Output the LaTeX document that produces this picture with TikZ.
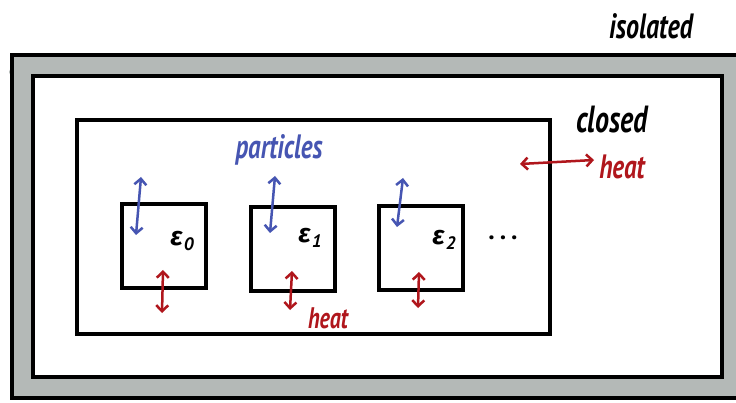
\documentclass[tikz,border=0pt]{standalone}
\usepackage{fontspec}
\setmainfont{PT Sans}
\newfontfamily\greekhand{Fira Sans}
\usetikzlibrary{arrows.meta}
\definecolor{wallgray}{HTML}{B4B9B7}
\definecolor{partblue}{HTML}{4655B2}
\definecolor{heatred}{HTML}{B0161C}
\tikzset{
  wall/.style={line width=4pt, draw=black},
  cell/.style={draw=black, line width=4pt, minimum width=84pt, minimum height=84pt, inner sep=0pt},
  hand/.style={xscale=1.0, yscale=1.35, inner sep=0pt},
  xch/.style={line width=2.5pt, {Straight Barb[length=6pt,width=12pt]}-{Straight Barb[length=6pt,width=12pt]}},
  pflow/.style={xch, draw=partblue},
  hflow/.style={xch, draw=heatred},
  lvl/.style={inner sep=0pt}
}
\newcommand{\lvltext}[1]{{\greekhand\fontsize{26}{28}\selectfont\bfseries\itshape ε}\kern1pt\raisebox{-5pt}{\fontsize{18}{19}\selectfont\bfseries\itshape #1}}
\begin{document}
\begin{tikzpicture}[x=1pt,y=-1pt]
\useasboundingbox (0,0) rectangle (736,403);
\clip (0,0) rectangle (736,403);
% isolated wall
\fill[wallgray] (12,55) rectangle (745,398);
\fill[wallgray] (14,72) circle (5);
\fill[wallgray] (718,92) circle (9);
\draw[wall] (12,55) rectangle (745,398);
\fill[white] (33,76) rectangle (722,377);
\draw[wall] (33,76) rectangle (722,377);
% closed system
\draw[wall] (77,120) rectangle (550,334);
% subsystems
\node[cell] (b0) at (163.5,246.5) {};
\node[cell] (b1) at (293,249) {};
\node[cell] (b2) at (421,248.5) {};
\node[lvl] (e0) at (182,241) {\lvltext{0}};
\node[lvl] (e1) at (310,238) {\lvltext{1}};
\node[lvl] (e2) at (444,240) {\lvltext{2}};
\node[font=\fontsize{26}{28}\selectfont\bfseries] (dots) at (503,238) {.\kern5pt.\kern5pt.};
% particle exchange
\coordinate (p0a) at (141,177); \coordinate (p0b) at (136,235);
\coordinate (p1a) at (275,176); \coordinate (p1b) at (270,233);
\coordinate (p2a) at (403,178); \coordinate (p2b) at (397,227);
\draw[pflow] (p0a) -- (p0b);
\draw[pflow] (p1a) -- (p1b);
\draw[pflow] (p2a) -- (p2b);
% heat exchange
\coordinate (h0a) at (163,270); \coordinate (h0b) at (162,313);
\coordinate (h1a) at (292,271); \coordinate (h1b) at (290,310);
\coordinate (h2a) at (419,272); \coordinate (h2b) at (418,308);
\draw[hflow] (h0a) -- (h0b);
\draw[hflow] (h1a) -- (h1b);
\draw[hflow] (h2a) -- (h2b);
\coordinate (hca) at (520,164); \coordinate (hcb) at (594,160);
\draw[hflow] (hca) -- (hcb);
% labels
\node[hand, text=partblue, font=\itshape\bfseries\fontsize{25}{27}\selectfont] (lp) at (279,150) {particles};
\node[hand, text=heatred, font=\itshape\bfseries\fontsize{22}{24}\selectfont] (lh1) at (328,318) {heat};
\node[hand, text=heatred, font=\itshape\bfseries\fontsize{25}{27}\selectfont] (lh2) at (622,167) {heat};
\node[hand, font=\itshape\bfseries\fontsize{28}{30}\selectfont] (lc) at (612,120) {closed};
\node[hand, font=\itshape\bfseries\fontsize{26}{28}\selectfont] (li) at (651,26) {isolated};
\end{tikzpicture}
\end{document}
